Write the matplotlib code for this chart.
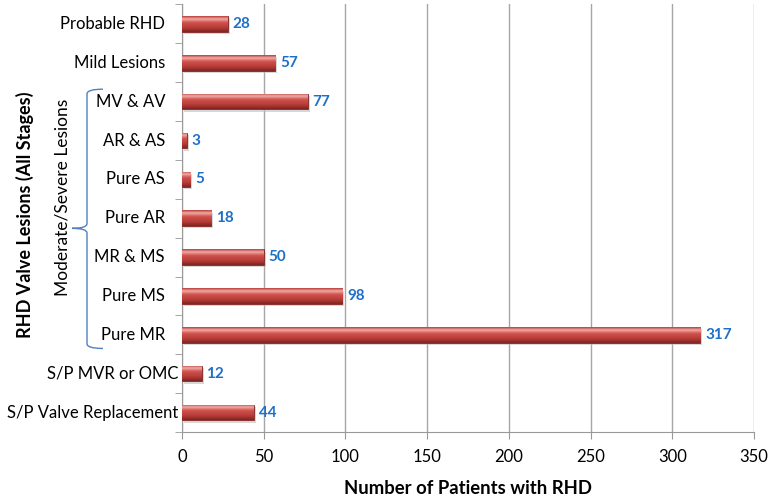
import matplotlib.pyplot as plt
import numpy as np
from matplotlib.colors import LinearSegmentedColormap
from matplotlib.path import Path
from matplotlib.patches import PathPatch
from matplotlib.transforms import blended_transform_factory

plt.rcParams['font.family'] = ['Lato', 'DejaVu Sans']

lesions = ['Probable RHD', 'Mild Lesions', 'MV & AV', 'AR & AS', 'Pure AS',
           'Pure AR', 'MR & MS', 'Pure MS', 'Pure MR', 'S/P MVR or OMC',
           'S/P Valve Replacement']
patients = [28, 57, 77, 3, 5, 18, 50, 98, 317, 12, 44]

fig = plt.figure(figsize=(7.71, 4.96), dpi=100)
ax = fig.add_axes([0.236, 0.129, 0.742, 0.862])

ypos = np.arange(len(lesions))
h = 0.4

# shading for the bars, top to bottom
bar_cmap = LinearSegmentedColormap.from_list(
    'bar3d', [(0.0, '#b8403c'), (0.18, '#f2aaa5'), (0.4, '#d0524d'),
              (0.75, '#b53a36'), (1.0, '#7e2522')])
grad = np.linspace(0, 1, 64).reshape(-1, 1)

# drop shadow
ax.barh(ypos + 0.06, patients, height=h, left=1.2, color='#bdbdbd',
        alpha=0.6, zorder=2)
bars = ax.barh(ypos, patients, height=h, color='#c0504d',
               edgecolor='#7e2522', linewidth=0.6, zorder=3)
for b, v, y in zip(bars, patients, ypos):
    im = ax.imshow(grad, cmap=bar_cmap, aspect='auto', zorder=3,
                   extent=(0, v, y + h / 2, y - h / 2), origin='upper')
    im.set_clip_path(b)
    ax.text(v + 3, y, str(v), va='center', ha='left', color='#1f6fc8',
            fontsize=11, fontweight='bold', zorder=4)

ax.set_xlim(0, 350)
ax.set_ylim(len(lesions) - 0.5, -0.5)
ax.set_xticks(np.arange(0, 351, 50))
ax.set_yticks([])
ax.set_yticks(np.arange(-0.5, len(lesions), 1), minor=True)
ax.tick_params(axis='y', which='minor', length=5, color='#999999')
ax.tick_params(axis='x', length=5, color='#999999', labelsize=12, pad=7)
ax.grid(axis='x', color='#a6a6a6', linewidth=1, zorder=0)
ax.set_axisbelow(True)
for s in ['top', 'right']:
    ax.spines[s].set_visible(False)
for s in ['left', 'bottom']:
    ax.spines[s].set_color('#999999')

# category labels, long ones run closer to the axis
tr = blended_transform_factory(fig.transFigure, ax.transData)
for name, y in zip(lesions, ypos):
    xr = 178 / 771 if name.startswith('S/P') else 165 / 771
    ax.text(xr, y, name, transform=tr, ha='right', va='center',
            fontsize=12, clip_on=False)

ax.set_xlabel('Number of Patients with RHD', fontsize=13.3, fontweight='bold',
              labelpad=11)
fig.text(25 / 771, 0.567, 'RHD Valve Lesions (All Stages)', rotation=90,
         ha='center', va='center', fontsize=13, fontweight='bold')

# brace around the moderate/severe group
xl = 87 / 771
xe = 103 / 771
xt = 72 / 771
y0, ym, y1 = 1.68, 5.26, 8.35
c = 0.12
verts = [(xe, y0), (xl, y0), (xl, y0 + c), (xl, ym - c),
         (xl, ym), (xt, ym),
         (xl, ym), (xl, ym + c), (xl, y1 - c), (xl, y1), (xe, y1)]
codes = [Path.MOVETO, Path.CURVE3, Path.CURVE3, Path.LINETO,
         Path.CURVE3, Path.CURVE3,
         Path.CURVE3, Path.CURVE3, Path.LINETO, Path.CURVE3, Path.CURVE3]
brace = PathPatch(Path(verts, codes), transform=tr, fill=False,
                  edgecolor='#4f81bd', linewidth=1, clip_on=False)
ax.add_patch(brace)
fig.text(63 / 771, 0.603, 'Moderate/Severe Lesions', rotation=90,
         ha='center', va='center', fontsize=12.5)

fig.savefig('out.png', dpi=100)
